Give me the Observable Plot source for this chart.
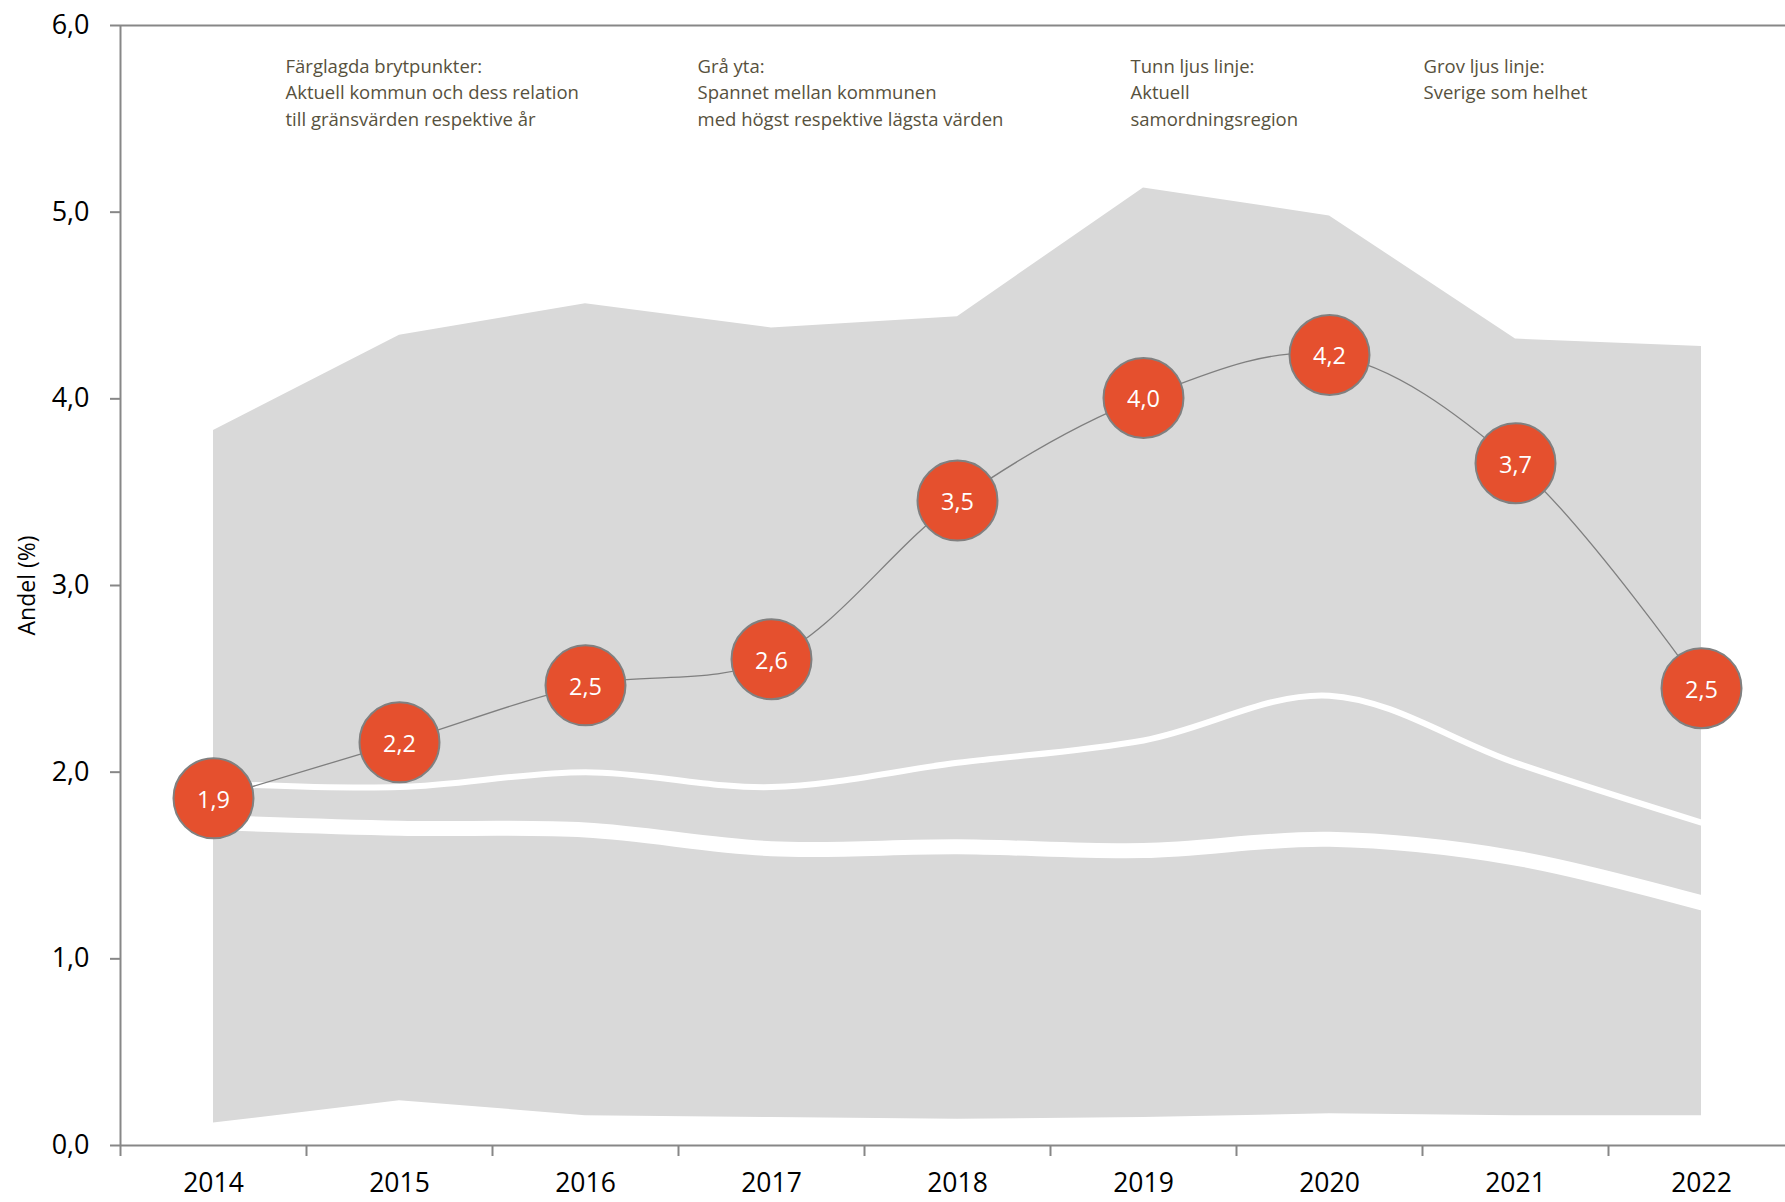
<!DOCTYPE html>
<html>
<head>
<meta charset="utf-8">
<script src="https://cdn.jsdelivr.net/npm/d3@7"></script>
<script src="https://cdn.jsdelivr.net/npm/@observablehq/plot@0.6"></script>
<style>
  html, body { margin: 0; padding: 0; background: white; }
  #chart { width: 1785px; height: 1202px; }
</style>
</head>
<body>
<div id="chart"></div>
<script>
// ---- Data ----
const years = [2014, 2015, 2016, 2017, 2018, 2019, 2020, 2021, 2022];
const rangeMax = [3.83, 4.34, 4.51, 4.38, 4.44, 5.13, 4.98, 4.32, 4.28];
const rangeMin = [0.12, 0.24, 0.16, 0.15, 0.14, 0.15, 0.17, 0.16, 0.16];
const kommun = [1.86, 2.16, 2.465, 2.605, 3.455, 4.005, 4.235, 3.655, 2.45];
const region = [1.94, 1.92, 2.00, 1.92, 2.05, 2.17, 2.41, 2.05, 1.73];
const sverige = [1.73, 1.70, 1.69, 1.59, 1.60, 1.58, 1.64, 1.54, 1.30];
const yTicks = [0, 1, 2, 3, 4, 5, 6];
const yLabel = "Andel (%)";
const notes = [
  "Färglagda brytpunkter:\nAktuell kommun och dess relation\ntill gränsvärden respektive år",
  "Grå yta:\nSpannet mellan kommunen\nmed högst respektive lägsta värden",
  "Tunn ljus linje:\nAktuell\nsamordningsregion",
  "Grov ljus linje:\nSverige som helhet"
];

const rows = years.map((y, i) => ({
  year: y, max: rangeMax[i], min: rangeMin[i],
  kommun: kommun[i], region: region[i], sverige: sverige[i]
}));
const boundaries = years.map(y => y - 0.5).concat([years[years.length - 1] + 0.5]);
const fmt = v => d3.format(".1f")(v).replace(".", ",");

const axisColor = "#878787";
const noteColor = "#57513d";
const noteDx = [165, 577, 1010, 1303];

const plot = Plot.plot({
  width: 1785,
  height: 1202,
  marginTop: 25,
  marginBottom: 57,
  marginLeft: 120,
  marginRight: 0,
  style: { fontFamily: "'Open Sans', sans-serif", fontSize: "27px", color: "black", background: "white" },
  x: { type: "linear", domain: [2013.5, 2022.5], range: [120, 1794] },
  y: { domain: [0, 6], range: [1145, 25] },
  marks: [
    Plot.areaY(rows, { x: "year", y1: "min", y2: "max", fill: "#d9d9d9", curve: "linear" }),
    Plot.lineY(rows, { x: "year", y: "sverige", stroke: "white", strokeWidth: 15, curve: "catmull-rom" }),
    Plot.lineY(rows, { x: "year", y: "region", stroke: "white", strokeWidth: 6, curve: "catmull-rom" }),
    Plot.lineY(rows, { x: "year", y: "kommun", stroke: "#7f7f7f", strokeWidth: 1.3, curve: "catmull-rom" }),
    Plot.dot(rows, { x: "year", y: "kommun", r: 40, fill: "#e5502e", stroke: "#808080", strokeWidth: 2 }),
    Plot.text(rows, { x: "year", y: "kommun", text: d => fmt(d.kommun), fill: "white", fontSize: 23.5, dy: 2 }),
    // frame / axes lines
    Plot.ruleY([0, 6], { stroke: axisColor, strokeWidth: 2 }),
    Plot.ruleX([boundaries[0]], { stroke: axisColor, strokeWidth: 2 }),
    Plot.axisY({ ticks: yTicks, tickFormat: fmt, tickSize: 10, tickPadding: 21, stroke: axisColor, strokeWidth: 2, fill: "black", fontSize: 27, label: null }),
    Plot.axisX({ ticks: boundaries, tickFormat: () => "", tickSize: 11, stroke: axisColor, strokeWidth: 2, label: null }),
    Plot.axisX({ ticks: years, tickFormat: d => String(d), tickSize: 0, tickPadding: 28, fill: "black", fontSize: 26.5, label: null }),
    Plot.text([yLabel], { frameAnchor: "left", textAnchor: "middle", dx: -93, rotate: -90, fontSize: 23, fill: "black", text: d => d }),
    ...notes.map((n, i) => Plot.text([n], {
      text: d => d, frameAnchor: "top-left", textAnchor: "start", lineAnchor: "top",
      dx: noteDx[i], dy: 29, fontSize: 18.5, lineHeight: 1.42, fill: noteColor
    }))
  ]
});
document.getElementById("chart").appendChild(plot);
</script>
</body>
</html>
